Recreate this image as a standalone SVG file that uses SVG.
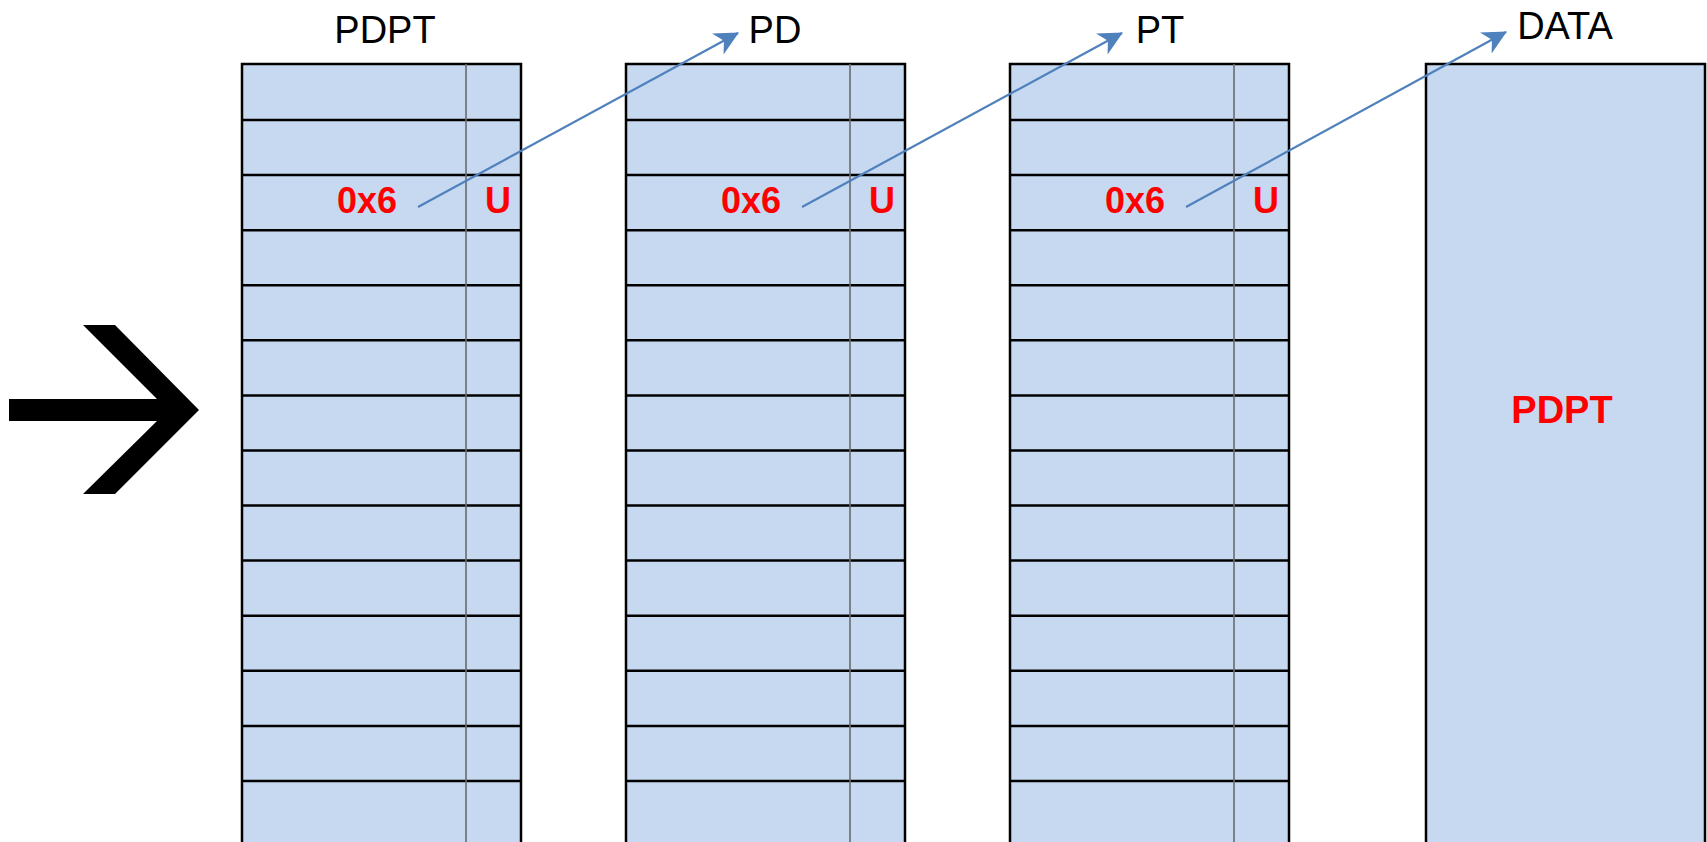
<svg xmlns="http://www.w3.org/2000/svg" xmlns:xlink="http://www.w3.org/1999/xlink" width="1707" height="842" viewBox="0 0 1707 842">
  <style>
    .fill { fill: #C6D9F0; stroke: #000; stroke-width: 2.5; }
    .row { stroke: #000; stroke-width: 2.5; }
    .div { stroke: #6b6b6b; stroke-width: 1.6; }
    .title { font-family: "Liberation Sans", Arial, sans-serif; font-size: 38px; fill: #000; text-anchor: middle; }
    .red { font-family: "Liberation Sans", Arial, sans-serif; font-weight: bold; font-size: 36px; fill: #FF0000; }
    .conn { stroke: #4F81BD; stroke-width: 2.2; fill: none; marker-end: url(#ah); }
  </style>
  <defs>
    <marker id="ah" markerUnits="userSpaceOnUse" viewBox="0 0 24 24" markerWidth="24" markerHeight="24" refX="23" refY="12" orient="auto">
      <path d="M0,0 L24,12 L0,24 L7,12 z" fill="#4F81BD"/>
    </marker>
    <g id="table">
      <rect class="fill" x="0" y="64" width="279" height="800"/>
      <line class="row" x1="0" x2="279" y1="120" y2="120"/>
      <line class="row" x1="0" x2="279" y1="175.1" y2="175.1"/>
      <line class="row" x1="0" x2="279" y1="230.2" y2="230.2"/>
      <line class="row" x1="0" x2="279" y1="285.2" y2="285.2"/>
      <line class="row" x1="0" x2="279" y1="340.3" y2="340.3"/>
      <line class="row" x1="0" x2="279" y1="395.4" y2="395.4"/>
      <line class="row" x1="0" x2="279" y1="450.5" y2="450.5"/>
      <line class="row" x1="0" x2="279" y1="505.6" y2="505.6"/>
      <line class="row" x1="0" x2="279" y1="560.6" y2="560.6"/>
      <line class="row" x1="0" x2="279" y1="615.7" y2="615.7"/>
      <line class="row" x1="0" x2="279" y1="670.8" y2="670.8"/>
      <line class="row" x1="0" x2="279" y1="725.9" y2="725.9"/>
      <line class="row" x1="0" x2="279" y1="781" y2="781"/>
      <line class="div" x1="224" x2="224" y1="64" y2="842"/>
      <text class="red" x="155" y="213" text-anchor="end">0x6</text>
      <text class="red" x="256" y="213" text-anchor="middle">U</text>
    </g>
  </defs>

  <g id="big-arrow">
    <polygon points="9,399 157,399 83,325 115,325 199,410 115,494 83,494 157,421 9,421" fill="#000"/>
  </g>

  <g id="pdpt">
    <use xlink:href="#table" transform="translate(242,0)"/>
    <text class="title" x="385" y="43">PDPT</text>
  </g>

  <g id="pd">
    <use xlink:href="#table" transform="translate(626,0)"/>
    <text class="title" x="775" y="43">PD</text>
  </g>

  <g id="pt">
    <use xlink:href="#table" transform="translate(1010,0)"/>
    <text class="title" x="1160" y="43">PT</text>
  </g>

  <g id="data">
    <rect class="fill" x="1426" y="64" width="279" height="800"/>
    <text class="title" x="1565" y="39">DATA</text>
    <text class="red" x="1562" y="423" text-anchor="middle" style="font-size:38px">PDPT</text>
  </g>

  <g id="connectors">
    <line class="conn" x1="418" y1="207" x2="738" y2="33"/>
    <line class="conn" x1="802" y1="207" x2="1122" y2="33"/>
    <line class="conn" x1="1186" y1="207" x2="1506" y2="32"/>
  </g>
</svg>
